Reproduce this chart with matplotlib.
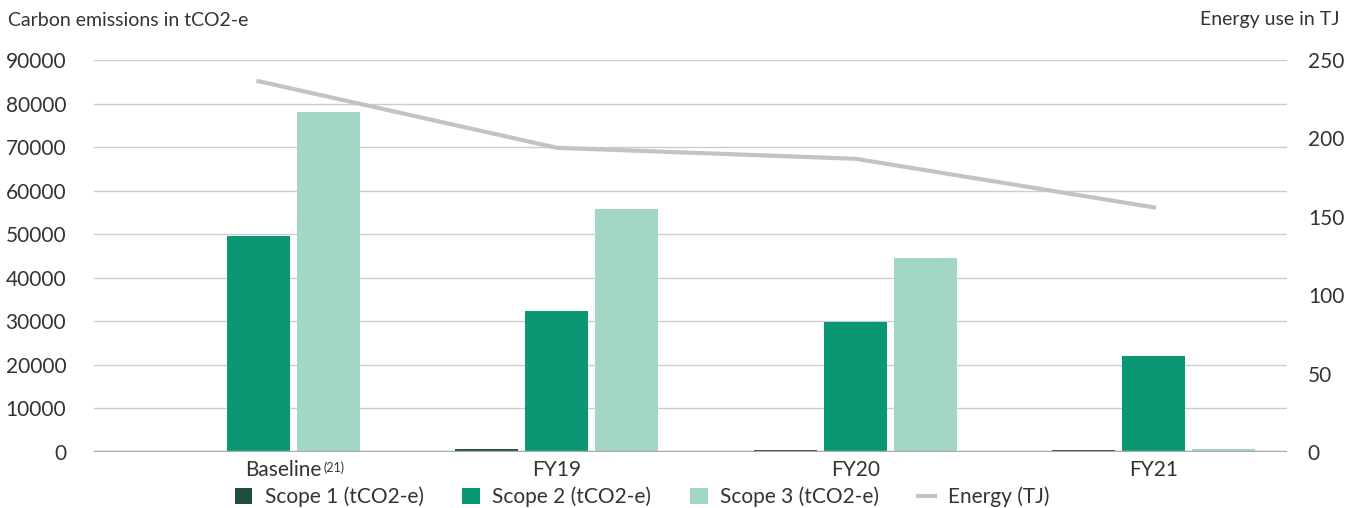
import matplotlib
matplotlib.use("Agg")
import matplotlib.pyplot as plt
import matplotlib.transforms as mtransforms
import numpy as np

plt.rcParams['font.family'] = ['Lato', 'DejaVu Sans']

categories = ["Baseline", "FY19", "FY20", "FY21"]
baseline_note = "(21)"
scope1 = [0, 700, 500, 500]
scope2 = [49600, 32400, 29800, 22000]
scope3 = [78000, 55800, 44500, 700]
energy = [236.5, 194, 187, 156]

c1, c2, c3, ce = "#1f4e3d", "#0a9874", "#a2d6c6", "#c3c3c3"
txt = "#333333"

fig = plt.figure(figsize=(13.55, 5.08), dpi=100)
ax = fig.add_axes([94/1355, 1-452/508, (1287-94)/1355, (452-60)/508])
ax2 = ax.twinx()

x = np.arange(len(categories))
w = 0.211
off = 0.2345
ax.bar(x - off, scope1, w, color=c1, label="Scope 1 (tCO2-e)", zorder=3)
ax.bar(x, scope2, w, color=c2, label="Scope 2 (tCO2-e)", zorder=3)
ax.bar(x + off, scope3, w, color=c3, label="Scope 3 (tCO2-e)", zorder=3)
ax2.plot(x, energy, color=ce, lw=3, label="Energy (TJ)", zorder=4)

ax.set_xlim(-0.551, 3.446)
ax.set_ylim(0, 90000)
ax2.set_ylim(0, 250)
ax.set_yticks(np.arange(0, 90001, 10000))
ax2.set_yticks(np.arange(0, 251, 50))
ax.grid(axis='y', color="#cccccc", lw=1, zorder=0)
ax.set_axisbelow(True)

for a in (ax, ax2):
    for s in a.spines.values():
        s.set_visible(False)
ax.axhline(0, color="#aaaaaa", lw=2.5, zorder=5)

ax.tick_params(axis='y', length=0, pad=20, labelsize=15, labelcolor=txt)
ax2.tick_params(axis='y', length=0, pad=15, labelsize=15, labelcolor=txt)
ax.set_xticks(x)
ax.set_xticklabels(categories)
ax.tick_params(axis='x', length=0, pad=6, labelsize=15, labelcolor=txt)
lbl0 = ax.get_xticklabels()[0]
lbl0.set_transform(lbl0.get_transform() + mtransforms.ScaledTranslation(0.25, 0, fig.dpi_scale_trans))

# footnote superscript next to Baseline label
fig.canvas.draw()
bb = lbl0.get_window_extent()
fig.text(bb.x1 / fig.bbox.width + 0.001, bb.y1 / fig.bbox.height - 0.002, baseline_note,
         fontsize=9, color=txt, ha='left', va='top')

fig.text(8/1355, 1-20/508, "Carbon emissions in tCO2-e", fontsize=14, color=txt, ha='left', va='center')
fig.text(1340/1355, 1-20/508, "Energy use in TJ", fontsize=14, color=txt, ha='right', va='center')

h1, l1 = ax.get_legend_handles_labels()
h2, l2 = ax2.get_legend_handles_labels()
leg = fig.legend(h1 + h2, l1 + l2, loc='center', bbox_to_anchor=(642/1355, 1-497/508), ncol=4,
                 frameon=False, fontsize=15, handlelength=0.85, handleheight=0.85,
                 columnspacing=1.85, handletextpad=0.6, labelcolor=txt)

fig.savefig("out.png", dpi=100)
